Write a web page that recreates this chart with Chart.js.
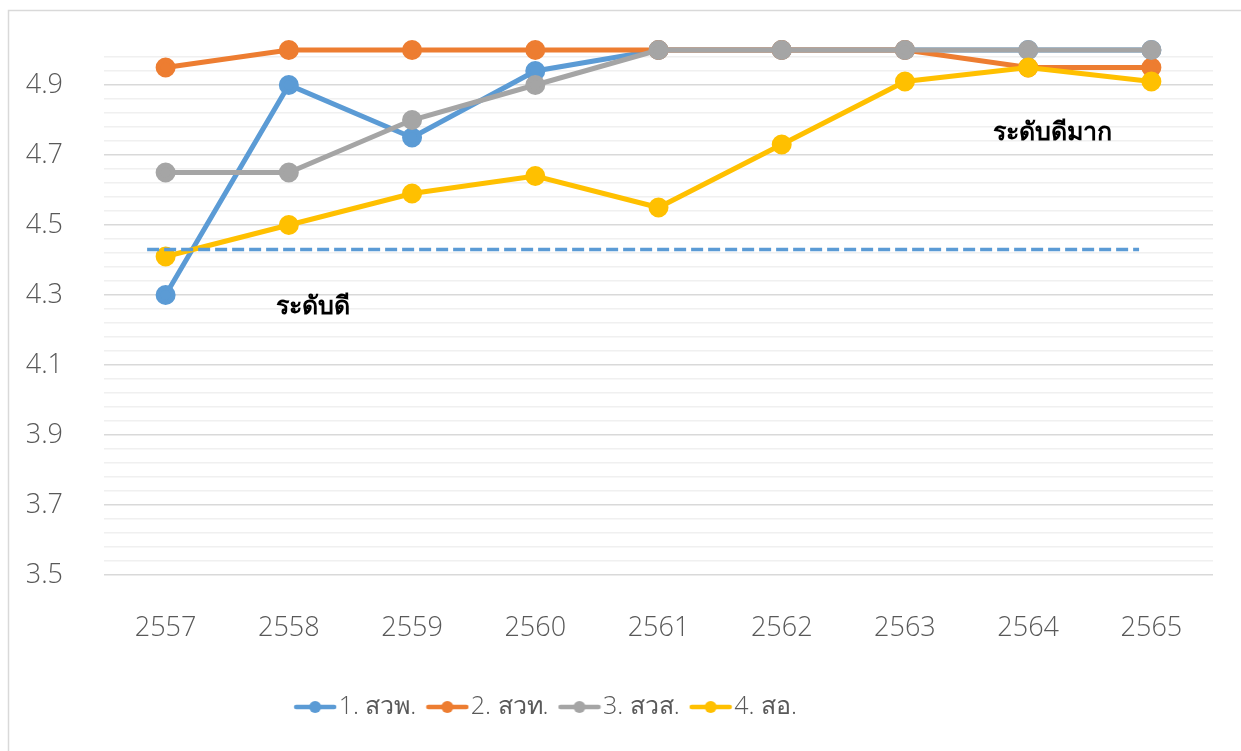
<!DOCTYPE html>
<html>
<head>
<meta charset="utf-8">
<script src="https://cdn.jsdelivr.net/npm/chart.js@4/dist/chart.umd.min.js"></script>
<style>
  html, body { margin: 0; padding: 0; background: #fff; }
  #chart { display: block; }
</style>
</head>
<body>
<canvas id="chart" width="1241" height="751"></canvas>
<script>
// ข้อมูล
const years = ['2557', '2558', '2559', '2560', '2561', '2562', '2563', '2564', '2565'];
const seriesNames = ['1. สวพ.', '2. สวท.', '3. สวส.', '4. สอ.'];
const sawaPho = [4.30, 4.90, 4.75, 4.94, 5.00, 5.00, 5.00, 5.00, 5.00];
const sawaTho = [4.95, 5.00, 5.00, 5.00, 5.00, 5.00, 5.00, 4.95, 4.95];
const sawaSo = [4.65, 4.65, 4.80, 4.90, 5.00, 5.00, 5.00, 5.00, 5.00];
const saO = [4.41, 4.50, 4.59, 4.64, 4.55, 4.73, 4.91, 4.95, 4.91];
const tickLabels = ['3.5', '3.7', '3.9', '4.1', '4.3', '4.5', '4.7', '4.9'];
const goodLevel = 4.43;
const levelTexts = ['ระดับดี', 'ระดับดีมาก'];

const colors = ['#5B9BD5', '#ED7D31', '#A5A5A5', '#FFC000'];
const FONT = '"Noto Sans", "Open Sans", sans-serif';
const TICKFONT = { family: '"Open Sans", "Noto Sans", sans-serif', size: 27, weight: 300 };

// เส้นกริดย่อยทุก 0.04
const gridValues = [];
for (let i = 0; i < 38; i++) gridValues.push(+(3.5 + i * 0.04).toFixed(2));

// ไอคอนตัวอย่างในคำอธิบาย (เส้น + จุด)
function makeMarker(color) {
    const c = document.createElement('canvas');
    c.width = 44; c.height = 14;
    const g = c.getContext('2d');
    g.strokeStyle = color;
    g.lineWidth = 4.5;
    g.lineCap = 'round';
    g.beginPath(); g.moveTo(3, 7); g.lineTo(41, 7); g.stroke();
    g.fillStyle = color;
    g.beginPath(); g.arc(22, 7, 6, 0, Math.PI * 2); g.fill();
    return c;
}
const markers = colors.map(makeMarker);

const extras = {
    id: 'extras',
    beforeDraw(chart) {
        const ctx = chart.ctx;
        ctx.save();
        ctx.strokeStyle = '#d9d9d9';
        ctx.lineWidth = 1.5;
        ctx.strokeRect(8.5, 10.5, 1400, 900);
        ctx.restore();
    },
    afterLayout(chart) {
        chart.legend.left -= 56;
        chart.legend.right -= 56;
    },
    afterDatasetsDraw(chart) {
        const ctx = chart.ctx;
        const x = chart.scales.x, y = chart.scales.y;
        const step = x.getPixelForValue(1) - x.getPixelForValue(0);
        const yy = y.getPixelForValue(goodLevel);
        ctx.save();
        ctx.strokeStyle = colors[0];
        ctx.lineWidth = 3.5;
        ctx.setLineDash([12, 5]);
        ctx.beginPath();
        ctx.moveTo(x.getPixelForValue(0) - 0.15 * step, yy);
        ctx.lineTo(x.getPixelForValue(8) - 0.1 * step, yy);
        ctx.stroke();
        ctx.setLineDash([]);
        ctx.fillStyle = '#000';
        ctx.font = 'bold 25px ' + FONT;
        ctx.textAlign = 'center';
        ctx.textBaseline = 'middle';
        ctx.fillText(levelTexts[0], x.getPixelForValue(1.2), y.getPixelForValue(4.266));
        ctx.fillText(levelTexts[1], x.getPixelForValue(7.2), y.getPixelForValue(4.763));
        ctx.restore();
    }
};

const seriesData = [sawaPho, sawaTho, sawaSo, saO];

new Chart(document.getElementById('chart').getContext('2d'), {
    type: 'line',
    data: {
        labels: years,
        datasets: seriesData.map((d, i) => ({
            label: seriesNames[i],
            data: d,
            borderColor: colors[i],
            backgroundColor: colors[i],
            pointBackgroundColor: colors[i],
            pointBorderColor: colors[i],
            borderWidth: 5,
            pointRadius: 7.5,
            pointHoverRadius: 7.5,
            tension: 0,
            fill: false,
            clip: false,
            order: 4 - i
        }))
    },
    plugins: [extras],
    options: {
        responsive: false,
        animation: false,
        layout: { padding: { top: 50, right: 28, left: 0, bottom: 21.5 } },
        plugins: {
            tooltip: { enabled: false },
            legend: {
                position: 'bottom',
                labels: {
                    usePointStyle: true,
                    pointStyleWidth: 22,
                    padding: 20,
                    color: '#595959',
                    font: { family: '"Open Sans", "Noto Sans", sans-serif', size: 25, weight: 300 },
                    generateLabels(chart) {
                        const items = Chart.defaults.plugins.legend.labels.generateLabels(chart);
                        items.sort((a, b) => a.datasetIndex - b.datasetIndex);
                        items.forEach(it => { it.pointStyle = markers[it.datasetIndex]; });
                        return items;
                    }
                }
            }
        },
        scales: {
            x: {
                offset: true,
                grid: { display: false, drawTicks: false, offset: true },
                border: { display: false },
                ticks: { color: '#595959', font: TICKFONT, padding: 37 },
                afterFit(scale) { scale.height = 99.5; }
            },
            y: {
                min: 3.5,
                max: 5.0,
                afterBuildTicks(scale) { scale.ticks = gridValues.map(v => ({ value: v })); },
                afterFit(scale) {
                    scale.width = 104;
                    scale.paddingTop = 0;
                    scale.paddingBottom = 0;
                },
                border: { display: false },
                grid: {
                    drawTicks: false,
                    lineWidth: 1.5,
                    color: c => (c.index % 5 === 0 ? '#d9d9d9' : '#f0f0f0')
                },
                ticks: {
                    autoSkip: false,
                    padding: 41,
                    color: '#595959',
                    font: TICKFONT,
                    callback(value) {
                        const t = tickLabels.find(l => Math.abs(parseFloat(l) - value) < 1e-6);
                        return t || '';
                    }
                }
            }
        }
    }
});
</script>
</body>
</html>
